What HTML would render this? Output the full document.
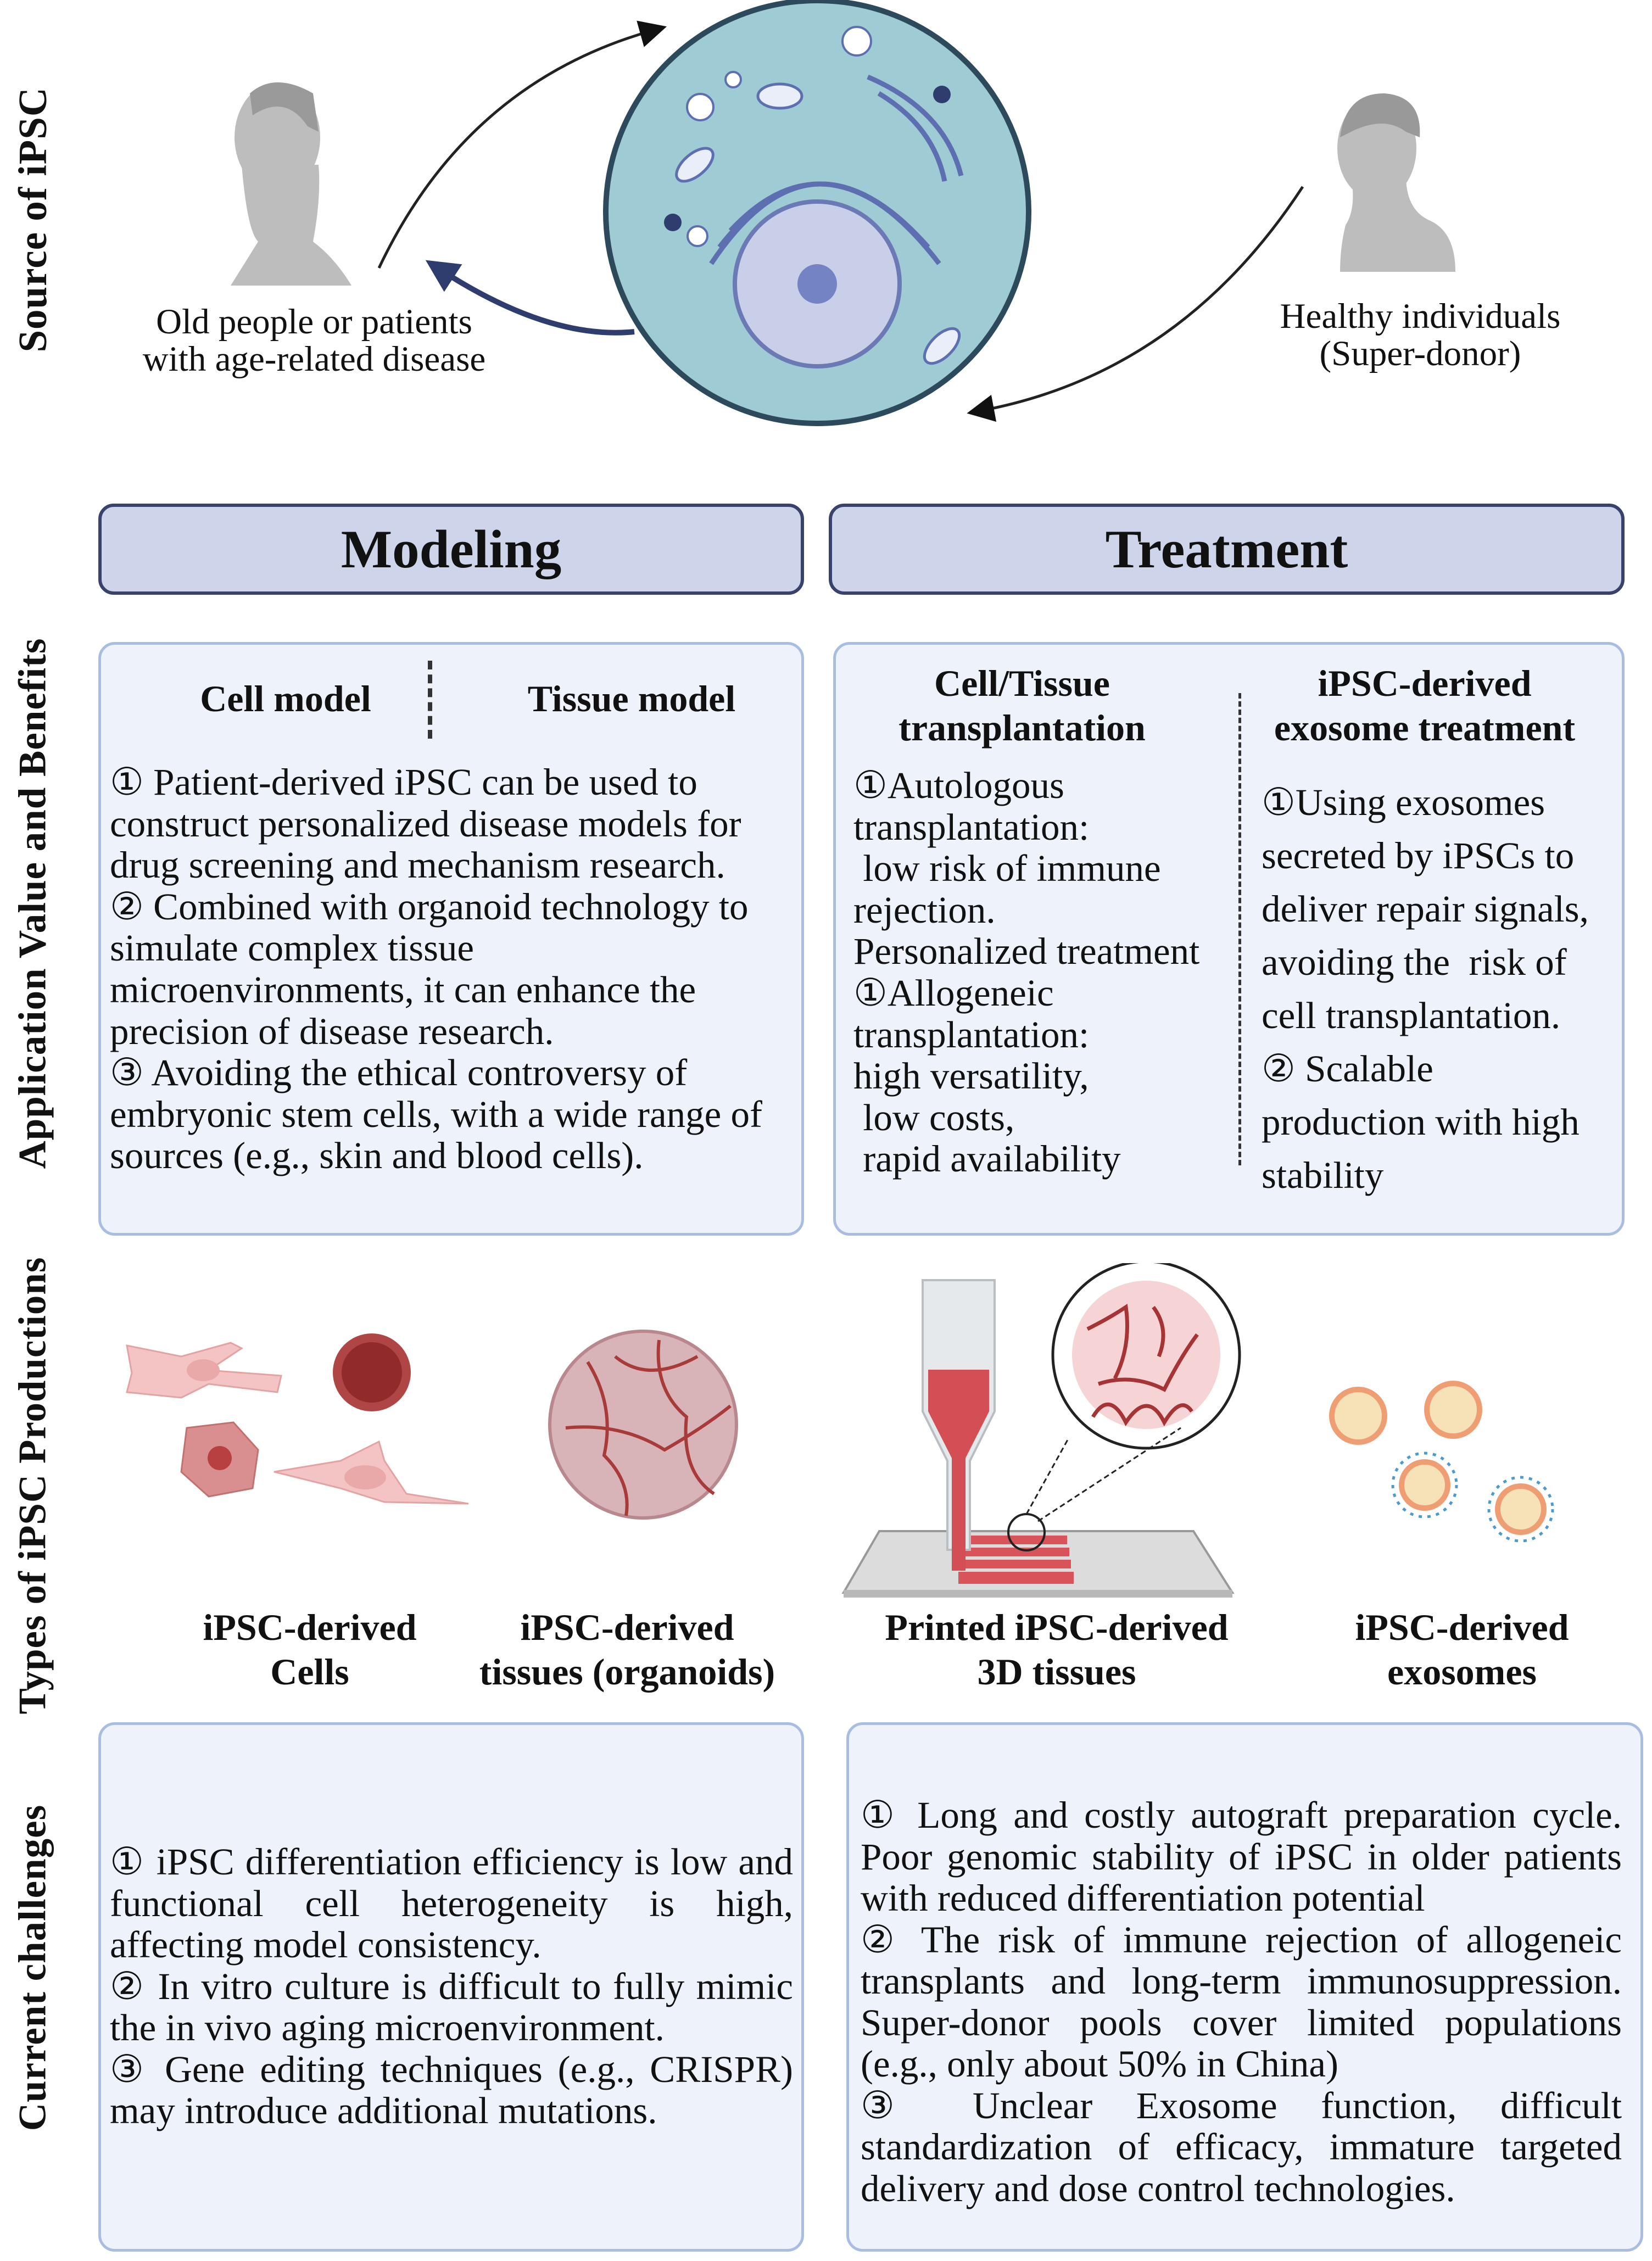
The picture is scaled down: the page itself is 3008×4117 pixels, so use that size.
<!DOCTYPE html>
<html><head><meta charset="utf-8"><style>
body{margin:0;width:3008px;height:4117px;background:#fff;position:relative;overflow:hidden;font-family:"Liberation Serif","DejaVu Serif",serif;color:#111}
.a{position:absolute}
.vl{position:absolute;font-weight:bold;font-size:71px;white-space:nowrap;transform:translate(-50%,-50%) rotate(-90deg);letter-spacing:1px}
.hdr{position:absolute;background:#ced4e9;border:6px solid #38426a;border-radius:28px;box-sizing:border-box;display:flex;align-items:center;justify-content:center;font-weight:bold;font-size:99px}
.box{position:absolute;background:#edf2fb;border:5px solid #a9bde2;border-radius:30px;box-sizing:border-box}
.t{position:absolute;font-size:69px;line-height:75.6px;white-space:nowrap}
.b{font-weight:bold;font-size:68px;text-align:center;position:absolute;white-space:nowrap;line-height:81px;transform:translateX(-50%)}
.j{position:absolute;font-size:69px;line-height:75.5px;text-align:justify}
</style></head><body>

<div class="vl" style="left:60px;top:400px;font-size:73px">Source of iPSC</div>
<div class="vl" style="left:60px;top:1645px">Application Value and Benefits</div>
<div class="vl" style="left:60px;top:2705px">Types of iPSC Productions</div>
<div class="vl" style="left:60px;top:3583px">Current challenges</div>

<svg class="a" style="left:0;top:0" width="3008" height="800" viewBox="0 0 3008 800">
<defs><marker id="ah" markerWidth="10" markerHeight="10" refX="5" refY="5" orient="auto"><path d="M0,0 L10,5 L0,10 z" fill="#111"/></marker>
<marker id="ab" markerWidth="6" markerHeight="6" refX="3" refY="3" orient="auto"><path d="M0,0 L6,3 L0,6 z" fill="#2f3d6e"/></marker></defs>
<g fill="#bdbdbd">
<ellipse cx="505" cy="250" rx="78" ry="100"/>
<path d="M440 300 Q450 420 470 440 L420 520 L640 520 Q610 470 570 440 Q585 360 580 300 z"/>
</g>
<path d="M455 170 Q500 130 570 170 L580 240 L560 230 Q520 170 460 210 z" fill="#9a9a9a"/>
<g fill="#bdbdbd">
<ellipse cx="2507" cy="270" rx="72" ry="95"/>
<path d="M2460 320 Q2470 380 2450 410 Q2440 450 2440 495 L2650 495 Q2650 420 2600 400 Q2560 380 2560 320 z"/>
</g>
<path d="M2440 250 Q2450 170 2520 170 Q2590 175 2585 250 L2560 240 Q2520 210 2460 240 z" fill="#999"/>
<path d="M690 488 Q850 150 1190 55" fill="none" stroke="#222" stroke-width="5" marker-end="url(#ah)"/>
<path d="M2372 340 Q2150 680 1785 748" fill="none" stroke="#222" stroke-width="5" marker-end="url(#ah)"/>
<path d="M1155 604 Q1000 620 800 490" fill="none" stroke="#2f3d6e" stroke-width="10" marker-end="url(#ab)"/>
<circle cx="1488" cy="386" r="385" fill="#9fcbd4" stroke="#2c4a5c" stroke-width="10"/>
<g fill="none" stroke="#5d6fb0" stroke-width="9">
<path d="M1330 420 Q1488 250 1660 420"/><path d="M1310 450 Q1488 220 1690 450"/><path d="M1295 480 Q1488 190 1710 480"/><path d="M1600 170 Q1700 230 1720 330"/><path d="M1580 140 Q1720 200 1750 320"/>
</g>
<circle cx="1488" cy="517" r="150" fill="#c9cfe8" stroke="#6b79b4" stroke-width="8"/>
<circle cx="1488" cy="517" r="36" fill="#7483c3"/>
<g fill="#fff" stroke="#5d6fb0" stroke-width="4"><circle cx="1275" cy="195" r="24"/><circle cx="1560" cy="75" r="26"/><circle cx="1270" cy="430" r="18"/><circle cx="1335" cy="145" r="14"/></g>
<g fill="#e9eef8" stroke="#5d6fb0" stroke-width="5"><ellipse cx="1420" cy="175" rx="40" ry="22"/><ellipse cx="1265" cy="300" rx="40" ry="20" transform="rotate(-40 1265 300)"/><ellipse cx="1715" cy="630" rx="40" ry="20" transform="rotate(-45 1715 630)"/></g>
<circle cx="1715" cy="172" r="16" fill="#2f3d6e"/><circle cx="1225" cy="405" r="16" fill="#2f3d6e"/>
</svg>

<div class="a" style="left:572px;top:552px;transform:translateX(-50%);font-size:65px;line-height:68px;text-align:center;white-space:nowrap">Old people or patients<br>with age-related disease</div>
<div class="a" style="left:2586px;top:542px;transform:translateX(-50%);font-size:65px;line-height:68px;text-align:center;white-space:nowrap">Healthy individuals<br>(Super-donor)</div>

<div class="hdr" style="left:179px;top:917px;width:1285px;height:166px">Modeling</div>
<div class="hdr" style="left:1509px;top:917px;width:1449px;height:166px">Treatment</div>

<div class="box" style="left:179px;top:1169px;width:1285px;height:1081px"></div>
<div class="box" style="left:1517px;top:1169px;width:1441px;height:1081px"></div>

<div class="b" style="left:520px;top:1232px">Cell model</div>
<div class="b" style="left:1150px;top:1232px">Tissue model</div>
<div class="a" style="left:779px;top:1203px;height:142px;border-left:8px dashed #333"></div>
<div class="t" style="left:200px;top:1387px">① Patient-derived iPSC can be used to<br>construct personalized disease models for<br>drug screening and mechanism research.<br>② Combined with organoid technology to<br>simulate complex tissue<br>microenvironments, it can enhance the<br>precision of disease research.<br>③ Avoiding the ethical controversy of<br>embryonic stem cells, with a wide range of<br>sources (e.g., skin and blood cells).</div>

<div class="b" style="left:1861px;top:1204px">Cell/Tissue<br>transplantation</div>
<div class="b" style="left:2594px;top:1204px">iPSC-derived<br>exosome treatment</div>
<div class="a" style="left:2255px;top:1262px;height:860px;border-left:5px dashed #333"></div>
<div class="t" style="left:1554px;top:1393px">①Autologous<br>transplantation:<br>&nbsp;low risk of immune<br>rejection.<br>Personalized treatment<br>①Allogeneic<br>transplantation:<br>high versatility,<br>&nbsp;low costs,<br>&nbsp;rapid availability</div>
<div class="t" style="left:2297px;top:1413px;line-height:97px">①Using exosomes<br>secreted by iPSCs to<br>deliver repair signals,<br>avoiding the&nbsp; risk of<br>cell transplantation.<br>② Scalable<br>production with high<br>stability</div>

<svg class="a" style="left:0;top:2300px" width="3008" height="640" viewBox="0 2300 3008 640">
<path d="M231 2450 L330 2470 L420 2445 L440 2455 L380 2495 L512 2505 L505 2535 L380 2520 L330 2545 L231 2535 L240 2500 z" fill="#f4c3c3" stroke="#e3a3a3" stroke-width="3"/>
<ellipse cx="370" cy="2495" rx="30" ry="20" fill="#eaa9a9"/>
<circle cx="677" cy="2499" r="71" fill="#b04545"/><circle cx="677" cy="2499" r="55" fill="#912a2a"/>
<path d="M340 2600 L425 2590 L470 2640 L460 2710 L380 2725 L330 2680 z" fill="#d98f8f" stroke="#c27070" stroke-width="3"/>
<circle cx="400" cy="2655" r="22" fill="#b84040"/>
<path d="M499 2680 L620 2660 L690 2625 L700 2660 L740 2720 L853 2738 L700 2735 L620 2710 z" fill="#f4c3c3" stroke="#e3a3a3" stroke-width="3"/>
<ellipse cx="665" cy="2690" rx="38" ry="22" fill="#eaa9a9"/>
<circle cx="1171" cy="2594" r="170" fill="#d8b3b7" stroke="#b9878e" stroke-width="6"/>
<g fill="none" stroke="#a83a3a" stroke-width="6"><path d="M1070 2480 Q1120 2560 1100 2650 Q1150 2700 1140 2760"/><path d="M1200 2440 Q1190 2530 1250 2580 Q1240 2680 1300 2720"/><path d="M1030 2600 Q1130 2590 1210 2640 Q1280 2600 1330 2560"/><path d="M1120 2470 Q1180 2520 1270 2470"/></g>
<polygon points="1601,2788 2173,2788 2244,2900 1536,2900" fill="#dcdcdc" stroke="#999" stroke-width="4"/>
<rect x="1536" y="2895" width="708" height="14" fill="#b8b8b8"/>
<g fill="#d9545a"><rect x="1759" y="2796" width="184" height="16"/><rect x="1755" y="2818" width="192" height="16"/><rect x="1750" y="2840" width="200" height="16"/><rect x="1745" y="2862" width="210" height="22"/></g>
<path d="M1680 2331 L1680 2570 L1725 2660 L1725 2822 L1766 2822 L1766 2660 L1811 2570 L1811 2331 z" fill="#e6e9eb" stroke="#b9bec2" stroke-width="4"/>
<path d="M1690 2494 L1690 2570 L1733 2655 L1733 2860 L1758 2860 L1758 2655 L1801 2570 L1801 2494 z" fill="#d44e55"/>
<circle cx="2087" cy="2467" r="170" fill="#fff" stroke="#222" stroke-width="5"/>
<circle cx="2087" cy="2467" r="135" fill="#f6d4d6"/>
<g fill="none" stroke="#a63434" stroke-width="7"><path d="M1980 2420 Q2020 2400 2050 2380 Q2060 2450 2030 2510"/><path d="M2000 2520 Q2060 2500 2120 2530 Q2150 2470 2180 2430"/><path d="M1990 2580 Q2020 2530 2050 2590 Q2090 2530 2120 2590 Q2150 2540 2170 2570"/><path d="M2100 2380 Q2130 2420 2110 2470"/></g>
<circle cx="1869" cy="2790" r="33" fill="none" stroke="#222" stroke-width="4"/>
<line x1="1869" y1="2757" x2="1945" y2="2620" stroke="#222" stroke-width="3" stroke-dasharray="10 6"/>
<line x1="1890" y1="2770" x2="2150" y2="2600" stroke="#222" stroke-width="3" stroke-dasharray="10 6"/>
<g stroke="#ef9e74" stroke-width="10" fill="#f7e2b8"><circle cx="2473" cy="2578" r="48"/><circle cx="2646" cy="2567" r="48"/><circle cx="2594" cy="2704" r="42"/><circle cx="2769" cy="2748" r="42"/></g>
<g stroke="#4b9ad0" stroke-width="5" stroke-dasharray="6 10" fill="none"><circle cx="2594" cy="2704" r="58"/><circle cx="2769" cy="2748" r="58"/></g>
</svg>

<div class="b" style="left:564px;top:2923px">iPSC-derived<br>Cells</div>
<div class="b" style="left:1142px;top:2923px">iPSC-derived<br>tissues (organoids)</div>
<div class="b" style="left:1924px;top:2923px">Printed iPSC-derived<br>3D tissues</div>
<div class="b" style="left:2662px;top:2923px">iPSC-derived<br>exosomes</div>

<div class="box" style="left:179px;top:3136px;width:1285px;height:964px"></div>
<div class="box" style="left:1541px;top:3136px;width:1451px;height:964px"></div>
<div class="j" style="left:200px;top:3353px;width:1244px">① iPSC differentiation efficiency is low and functional cell heterogeneity is high, affecting model consistency.<br>② In vitro culture is difficult to fully mimic the in vivo aging microenvironment.<br>③ Gene editing techniques (e.g., CRISPR) may introduce additional mutations.</div>
<div class="j" style="left:1567px;top:3268px;width:1386px">① Long and costly autograft preparation cycle. Poor genomic stability of iPSC in older patients with reduced differentiation potential<br>② The risk of immune rejection of allogeneic transplants and long-term immunosuppression. Super-donor pools cover limited populations (e.g., only about 50% in China)<br>③ Unclear Exosome function, difficult standardization of efficacy, immature targeted delivery and dose control technologies.</div>
</body></html>
